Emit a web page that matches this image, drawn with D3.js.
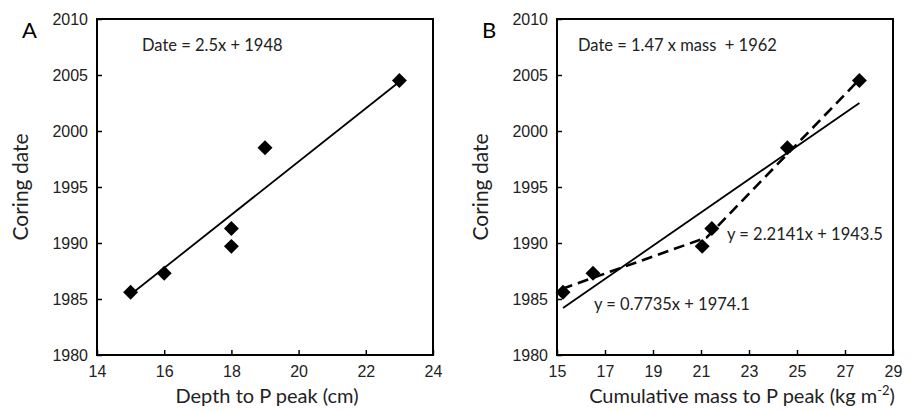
<!doctype html>
<html lang="en">
<head>
  <meta charset="utf-8">
  <title>Coring date vs depth and cumulative mass</title>
  <style>
    body { margin: 0; background: #fff; }
    svg { display: block; font-family: Lato, "Open Sans", sans-serif; }
    .axis path { display: none; }
    .axis line { stroke: #000; stroke-width: 1.5px; }
    .axis text { font-size: 16px; fill: #222; }
    .frame { fill: none; stroke: #000; stroke-width: 2px; }
    .fit { fill: none; stroke: #000; stroke-width: 1.8px; }
    .fit2 { fill: none; stroke: #000; stroke-width: 2.6px; stroke-dasharray: 11 6; }
    .lab { font-size: 20px; fill: #222; }
    .ylab { font-size: 21px; fill: #222; }
    .eq { font-size: 16.5px; fill: #222; }
    .panel { font-size: 22px; fill: #000; }
  </style>
</head>
<body>
  <svg id="chart" width="910" height="411"></svg>
  <script src="https://d3js.org/d3.v7.min.js"></script>
  <script>
    // panel A: depth to P peak (cm) vs coring date
    var depthA = [15, 16, 18, 18, 19, 23]
    var dateA = [1985.6, 1987.3, 1991.3, 1989.7, 1998.5, 2004.5]
    var fitA = [[15, 1985.4], [23, 2004.4]]

    // panel B: cumulative mass to P peak (kg m-2) vs coring date
    var massB = [15.25, 16.5, 21.05, 21.45, 24.6, 27.6]
    var dateB = [1985.6, 1987.3, 1989.7, 1991.3, 1998.5, 2004.5]
    var fitB = [[15.25, 1984.2], [27.6, 2002.5]]
    var brokenB = [[15.2, 1985.9], [21.24, 1990.5], [27.6, 2004.6]]

    var yTicks = [1980, 1985, 1990, 1995, 2000, 2005, 2010]
    var xTicksA = [14, 16, 18, 20, 22, 24]
    var xTicksB = [15, 17, 19, 21, 23, 25, 27, 29]

    var svg = d3.select("#chart")
    var plotTop = 19, plotBottom = 355

    function panel(opts) {
      var x = d3.scaleLinear().domain(opts.xDomain).range([opts.left, opts.right])
      var y = d3.scaleLinear().domain([1980, 2010]).range([plotBottom, plotTop])
      var g = svg.append("g")

      g.append("g").attr("class", "axis")
        .attr("transform", "translate(0," + plotBottom + ")")
        .call(d3.axisBottom(x).tickValues(opts.xTicks).tickSize(-5).tickPadding(11).tickFormat(d3.format("d")))
      g.append("g").attr("class", "axis")
        .attr("transform", "translate(" + opts.left + ",0)")
        .call(d3.axisLeft(y).tickValues(yTicks).tickSize(-5).tickPadding(9).tickFormat(d3.format("d")))

      g.append("rect").attr("class", "frame")
        .attr("x", opts.left).attr("y", plotTop)
        .attr("width", opts.right - opts.left).attr("height", plotBottom - plotTop)

      var line = d3.line().x(function(d) { return x(d[0]) }).y(function(d) { return y(d[1]) })
      g.append("path").attr("class", "fit").attr("d", line(opts.fit))
      if (opts.broken) g.append("path").attr("class", "fit2").attr("d", line(opts.broken))

      var diamond = d3.symbol(d3.symbolSquare, 112)
      g.selectAll(".pt").data(opts.xs).enter().append("path")
        .attr("class", "pt")
        .attr("d", diamond)
        .attr("fill", "#000")
        .attr("transform", function(d, i) {
          return "translate(" + x(d) + "," + y(opts.ys[i]) + ") rotate(45)"
        })

      g.append("text").attr("class", "ylab")
        .attr("transform", "translate(" + (opts.left - 69) + "," + 187 + ") rotate(-90)")
        .attr("text-anchor", "middle")
        .text("Coring date")
      g.append("text").attr("class", "panel")
        .attr("x", opts.left - 75).attr("y", 38)
        .text(opts.name)
      return { g: g, x: x, y: y }
    }

    var a = panel({ name: "A", left: 97, right: 433, xDomain: [14, 24], xTicks: xTicksA,
      xs: depthA, ys: dateA, fit: fitA })
    a.g.append("text").attr("class", "lab")
      .attr("x", 267).attr("y", 403).attr("text-anchor", "middle")
      .text("Depth to P peak (cm)")
    a.g.append("text").attr("class", "eq")
      .attr("x", 142).attr("y", 51)
      .text("Date = 2.5x + 1948")

    var b = panel({ name: "B", left: 557, right: 893, xDomain: [15, 29], xTicks: xTicksB,
      xs: massB, ys: dateB, fit: fitB, broken: brokenB })
    var xl = b.g.append("text").attr("class", "lab")
      .attr("x", 742).attr("y", 403).attr("text-anchor", "middle")
    xl.append("tspan").text("Cumulative mass to P peak (kg m")
    xl.append("tspan").attr("dy", -8).attr("font-size", 13).text("-2")
    xl.append("tspan").attr("dy", 8).text(")")
    b.g.append("text").attr("class", "eq")
      .attr("x", 578).attr("y", 51)
      .attr("xml:space", "preserve")
      .text("Date = 1.47 x mass  + 1962")
    b.g.append("text").attr("class", "eq")
      .attr("x", 727).attr("y", 240)
      .text("y = 2.2141x + 1943.5")
    b.g.append("text").attr("class", "eq")
      .attr("x", 594).attr("y", 310)
      .text("y = 0.7735x + 1974.1")
  </script>
</body>
</html>
